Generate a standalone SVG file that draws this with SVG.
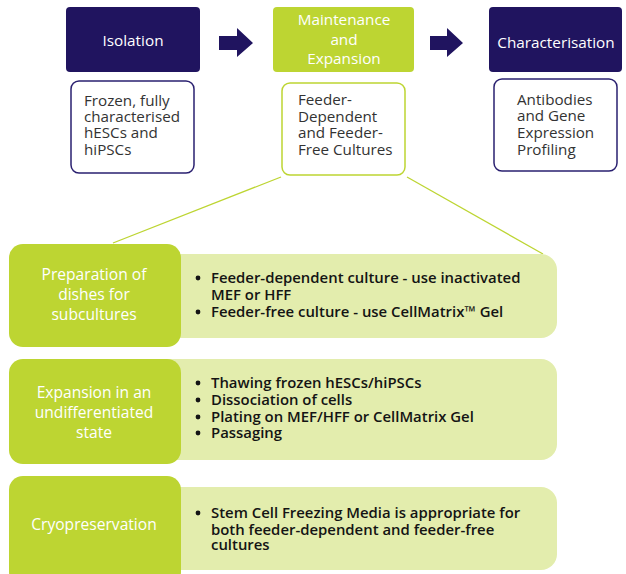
<svg xmlns="http://www.w3.org/2000/svg" width="626" height="574" viewBox="0 0 626 574">
<style>
.navy{fill:#20145f}
.green{fill:#bdd532}
.light{fill:#e3edad}
.wb{fill:#fff;stroke-width:1.5}
.wbn{stroke:#2a2070}
.wbg{stroke:#bdd532}
text{font-family:"Open Sans","Noto Sans","DejaVu Sans",sans-serif}
.hd{fill:#fff;font-size:15.3px;text-anchor:middle}
.bx{fill:#333;font-size:15.2px}
.lt{fill:#fff;font-size:15.6px;text-anchor:middle}
.bl{fill:#141414;font-size:14.9px;font-weight:600}
.dot{fill:#141414}
.conn{stroke:#bdd532;stroke-width:1.3;fill:none}
</style>
<defs>
<circle id="b" r="2.4" class="dot"/>
</defs>
<g id="connectors">
<polygon id="arrow1" class="navy" points="219,36 237,36 237,28 253,43 237,57 237,50 219,50"/>
<polygon id="arrow2" class="navy" points="430,36 447,36 447,28 463,43 447,57 447,50 430,50"/>
<line class="conn" x1="281" y1="177" x2="113" y2="243"/>
<line class="conn" x1="407" y1="177" x2="543" y2="254"/>
</g>
<g id="isolation">
<rect class="navy" x="66" y="7" width="134" height="65" rx="4"/>
<text class="hd" x="133" y="46">Isolation</text>
</g>
<g id="maintenance">
<rect class="green" x="273" y="7" width="141" height="65" rx="4"/>
<text class="hd" x="344" y="25">Maintenance</text>
<text class="hd" x="344" y="45">and</text>
<text class="hd" x="344" y="64">Expansion</text>
</g>
<g id="characterisation">
<rect class="navy" x="489" y="7" width="133" height="65" rx="4"/>
<text class="hd" x="556" y="48">Characterisation</text>
</g>
<g id="frozen">
<rect class="wb wbn" x="71" y="81" width="123" height="92" rx="8"/>
<text class="bx" x="84" y="106">Frozen, fully</text>
<text class="bx" x="84" y="122">characterised</text>
<text class="bx" x="84" y="138">hESCs and</text>
<text class="bx" x="84" y="155">hiPSCs</text>
</g>
<g id="feeder">
<rect class="wb wbg" x="282" y="83" width="123" height="92" rx="8"/>
<text class="bx" x="298" y="105">Feeder-</text>
<text class="bx" x="298" y="122">Dependent</text>
<text class="bx" x="298" y="138">and Feeder-</text>
<text class="bx" x="298" y="155">Free Cultures</text>
</g>
<g id="antibodies">
<rect class="wb wbn" x="494" y="79" width="123" height="92" rx="8"/>
<text class="bx" x="517" y="105">Antibodies</text>
<text class="bx" x="517" y="121">and Gene</text>
<text class="bx" x="517" y="138">Expression</text>
<text class="bx" x="517" y="155">Profiling</text>
</g>
<g id="preparation">
<rect class="light" x="150" y="254" width="407" height="84" rx="16"/>
<rect class="green" x="9" y="244" width="172" height="103" rx="14"/>
<text class="lt" x="94" y="280">Preparation of</text>
<text class="lt" x="94" y="300">dishes for</text>
<text class="lt" x="94" y="320">subcultures</text>
<use href="#b" x="198" y="278"/>
<text class="bl" x="211" y="283">Feeder-dependent culture - use inactivated</text>
<text class="bl" x="211" y="300">MEF or HFF</text>
<use href="#b" x="198" y="312"/>
<text class="bl" x="211" y="317">Feeder-free culture - use CellMatrix™ Gel</text>
</g>
<g id="expansion">
<rect class="light" x="150" y="359" width="407" height="101" rx="16"/>
<rect class="green" x="9" y="359" width="172" height="105" rx="14"/>
<text class="lt" x="94" y="398">Expansion in an</text>
<text class="lt" x="94" y="418">undifferentiated</text>
<text class="lt" x="94" y="438">state</text>
<use href="#b" x="198" y="383"/>
<text class="bl" x="211" y="388">Thawing frozen hESCs/hiPSCs</text>
<use href="#b" x="198" y="400"/>
<text class="bl" x="211" y="405">Dissociation of cells</text>
<use href="#b" x="198" y="417"/>
<text class="bl" x="211" y="422">Plating on MEF/HFF or CellMatrix Gel</text>
<use href="#b" x="198" y="433"/>
<text class="bl" x="211" y="438">Passaging</text>
</g>
<g id="cryopreservation">
<rect class="light" x="150" y="487" width="407" height="83" rx="16"/>
<rect class="green" x="9" y="476" width="172" height="110" rx="14"/>
<text class="lt" x="94" y="530">Cryopreservation</text>
<use href="#b" x="198" y="513"/>
<text class="bl" x="211" y="518">Stem Cell Freezing Media is appropriate for</text>
<text class="bl" x="211" y="535">both feeder-dependent and feeder-free</text>
<text class="bl" x="211" y="550">cultures</text>
</g>
</svg>
